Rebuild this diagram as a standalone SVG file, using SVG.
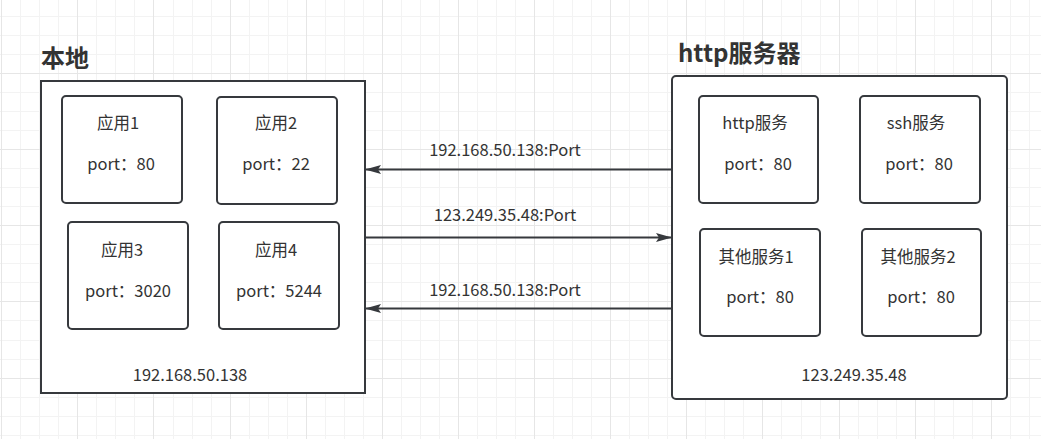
<svg xmlns="http://www.w3.org/2000/svg" width="1041" height="439" viewBox="0 0 1041 439">
<style>
  .t { font-family: "Noto Sans CJK SC", "Noto Sans", sans-serif; font-size: 16.5px; fill: #333333; text-anchor: middle; }
  .title { font-family: "Noto Sans CJK SC", "Noto Sans", sans-serif; font-size: 24px; font-weight: bold; fill: #333333; }
  .box { fill: #ffffff; stroke: #36393d; stroke-width: 2; }
  .conn { stroke: #36393d; stroke-width: 2; fill: none; }
  .minor { stroke: #f3f3f3; stroke-width: 1; fill: none; }
  .major { stroke: #e6e6e6; stroke-width: 1; fill: none; }
</style>
<defs>
  <marker id="arrow" viewBox="0 0 16 10" refX="15" refY="5" markerWidth="16" markerHeight="10" markerUnits="userSpaceOnUse" orient="auto">
    <path d="M0 0.5 L16 5 L0 9.5 L3 5 Z" fill="#36393d"/>
  </marker>
</defs>
<rect width="1041" height="439" fill="#ffffff"/>
<g id="grid">
  <path class="minor" d="M20.5 0V439M39.5 0V439M58.5 0V439M96.5 0V439M115.5 0V439M134.5 0V439M173.5 0V439M192.5 0V439M211.5 0V439M249.5 0V439M268.5 0V439M287.5 0V439M325.5 0V439M344.5 0V439M363.5 0V439M401.5 0V439M420.5 0V439M439.5 0V439M477.5 0V439M496.5 0V439M515.5 0V439M553.5 0V439M572.5 0V439M591.5 0V439M629.5 0V439M648.5 0V439M667.5 0V439M705.5 0V439M724.5 0V439M743.5 0V439M781.5 0V439M801.5 0V439M820.5 0V439M858.5 0V439M877.5 0V439M896.5 0V439M934.5 0V439M953.5 0V439M972.5 0V439M1010.5 0V439M1029.5 0V439
  M0 16.5H1041M0 35.5H1041M0 54.5H1041M0 92.5H1041M0 111.5H1041M0 130.5H1041M0 168.5H1041M0 187.5H1041M0 206.5H1041M0 244.5H1041M0 263.5H1041M0 282.5H1041M0 320.5H1041M0 340.5H1041M0 359.5H1041M0 397.5H1041M0 416.5H1041M0 435.5H1041"/>
  <path class="major" d="M1.5 0V439M77.5 0V439M153.5 0V439M230.5 0V439M306.5 0V439M382.5 0V439M458.5 0V439M534.5 0V439M610.5 0V439M686.5 0V439M762.5 0V439M839.5 0V439M915.5 0V439M991.5 0V439
  M0 73.5H1041M0 149.5H1041M0 225.5H1041M0 301.5H1041M0 378.5H1041"/>
</g>

<g id="local">
  <text class="title" x="41" y="67">本地</text>
  <rect class="box" x="41" y="81" width="324" height="312"/>
  <text class="t" x="190" y="381">192.168.50.138</text>
</g>
<g id="app1">
  <rect class="box" x="62" y="96" width="120" height="107" rx="4"/>
  <text class="t" x="118" y="129">应用1</text>
  <text class="t" x="121" y="170">port：80</text>
</g>
<g id="app2">
  <rect class="box" x="217" y="97" width="120" height="107" rx="4"/>
  <text class="t" x="276" y="129">应用2</text>
  <text class="t" x="276" y="170">port：22</text>
</g>
<g id="app3">
  <rect class="box" x="68" y="222" width="120" height="107" rx="4"/>
  <text class="t" x="122" y="256">应用3</text>
  <text class="t" x="128" y="297">port：3020</text>
</g>
<g id="app4">
  <rect class="box" x="219" y="222" width="120" height="107" rx="4"/>
  <text class="t" x="276" y="256">应用4</text>
  <text class="t" x="279" y="297">port：5244</text>
</g>

<g id="server">
  <text class="title" x="678" y="62">http服务器</text>
  <rect class="box" x="672" y="76" width="335" height="323" rx="4"/>
  <text class="t" x="854" y="381">123.249.35.48</text>
</g>
<g id="svc-http">
  <rect class="box" x="699" y="96" width="119" height="107" rx="4"/>
  <text class="t" x="755" y="129">http服务</text>
  <text class="t" x="758" y="170">port：80</text>
</g>
<g id="svc-ssh">
  <rect class="box" x="860" y="96" width="120" height="107" rx="4"/>
  <text class="t" x="916" y="129">ssh服务</text>
  <text class="t" x="919" y="170">port：80</text>
</g>
<g id="svc-other1">
  <rect class="box" x="700" y="229" width="120" height="107" rx="4"/>
  <text class="t" x="756" y="263">其他服务1</text>
  <text class="t" x="760" y="303">port：80</text>
</g>
<g id="svc-other2">
  <rect class="box" x="862" y="229" width="119" height="107" rx="4"/>
  <text class="t" x="918" y="263">其他服务2</text>
  <text class="t" x="921" y="303">port：80</text>
</g>

<g id="connectors">
  <line class="conn" x1="672" y1="169.5" x2="366" y2="169.5" marker-end="url(#arrow)"/>
  <text class="t" x="505" y="156">192.168.50.138:Port</text>
  <line class="conn" x1="365" y1="237.5" x2="671" y2="237.5" marker-end="url(#arrow)"/>
  <text class="t" x="505" y="221">123.249.35.48:Port</text>
  <line class="conn" x1="672" y1="308.5" x2="366" y2="308.5" marker-end="url(#arrow)"/>
  <text class="t" x="505" y="296">192.168.50.138:Port</text>
</g>
</svg>
